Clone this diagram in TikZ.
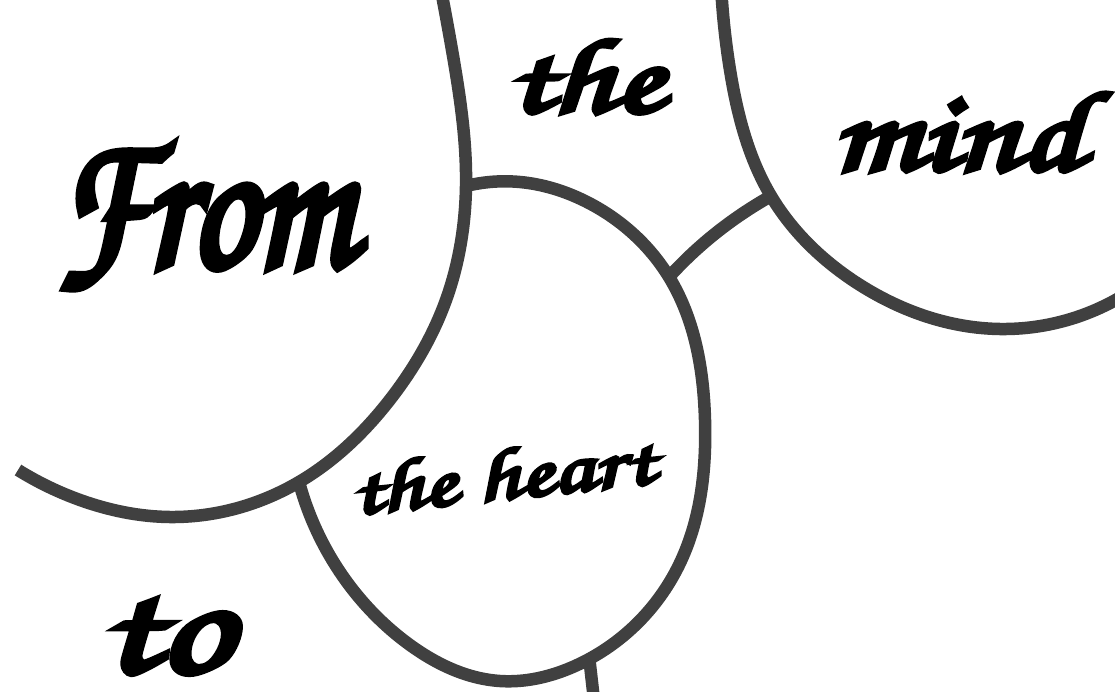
\documentclass[tikz,border=0pt]{standalone}
\usepackage{fontspec}
\usepackage{graphicx}
\usetikzlibrary{hobby}
\newfontfamily\brushfont{texgyrechorus-mediumitalic.otf}[FakeBold=4.5]
\definecolor{ink}{HTML}{404040}
\begin{document}
\begin{tikzpicture}[x=1pt,y=-1pt,
  ring/.style={draw=ink, line width=12.5pt, line join=round, use Hobby shortcut},
  word/.style={inner sep=0pt, outer sep=0pt, text=black, font=\brushfont\fontsize{60}{60}\selectfont}]
\useasboundingbox (0,0) rectangle (1115,691);
\clip (0,0) rectangle (1115,691);
\fill[white] (0,0) rectangle (1115,691);

\coordinate (jAH) at (466,186);
\coordinate (jHA) at (299,482);
\coordinate (jHM) at (669,277);
\coordinate (jMH) at (771,196);
\coordinate (stubTop) at (589,656);
\coordinate (stubEnd) at (594,700);

% "From" circle
\draw[ring] (440,-15) .. (452,50) .. (jAH) .. (446,300) .. (392,397) .. (jHA) .. (170,517) .. (80,500) .. (18,470);
% "the heart" circle
\draw[ring] (jAH) .. (520,182) .. (585,201) .. (jHM) .. (705,420) .. (679,565) .. (575,666) .. (500,681) .. (410,645) .. (336,566) .. (jHA);
% "mind" circle
\draw[ring] (721,-15) .. (730,70) .. (jMH) .. (860,285) .. (1000,329) .. (1135,288);
% connector between heart and mind
\draw[draw=ink, line width=12.5pt] (jHM) .. controls (698,245) and (732,218) .. (jMH);
% stub below the heart
\draw[draw=ink, line width=12.5pt] (stubTop) -- (stubEnd);

\node[word, anchor=base west] (from) at (55,266) {\resizebox{298pt}{121pt}{From}};
\node[word, anchor=base west] (the) at (507,112) {\resizebox{156pt}{72pt}{the}};
\node[word, anchor=base west] (mind) at (832,170) {\resizebox{251pt}{77pt}{mind}};
\node[word, anchor=base west, rotate=6] (heart) at (353,515) {\resizebox{305pt}{50pt}{the heart}};
\node[word, anchor=base west] (to) at (100,672) {\resizebox{130pt}{72pt}{to}};
\end{tikzpicture}
\end{document}
